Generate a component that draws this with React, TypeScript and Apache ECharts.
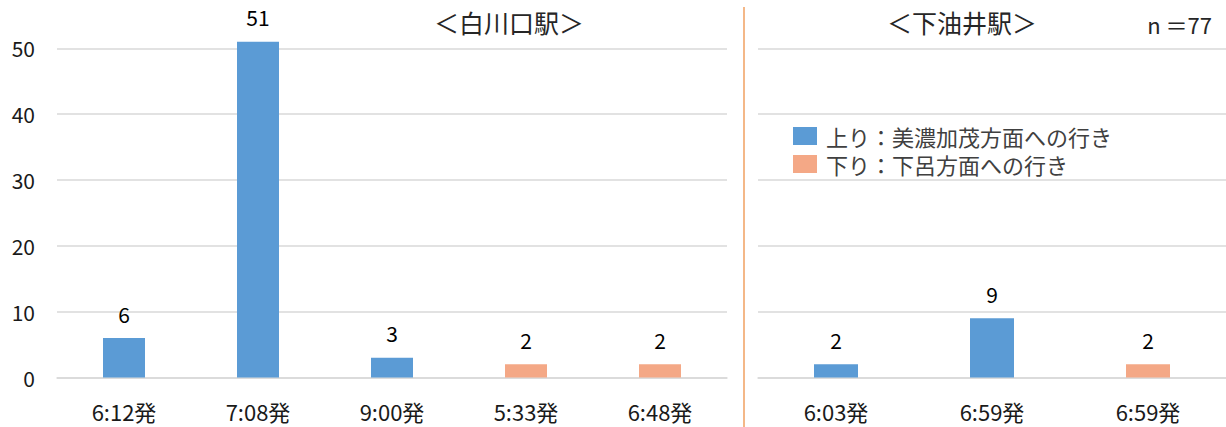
import React, { useEffect, useRef } from "react";
import * as echarts from "echarts";

const leftCategories = ["6:12発", "7:08発", "9:00発", "5:33発", "6:48発"];
const leftUp: (number | string)[] = [6, 51, 3, "-", "-"];
const leftDown: (number | string)[] = ["-", "-", "-", 2, 2];

const rightCategories = ["6:03発", "6:59発", "6:59発"];
const rightUp: (number | string)[] = [2, 9, "-"];
const rightDown: (number | string)[] = ["-", "-", 2];

const upName = "上り：美濃加茂方面への行き";
const downName = "下り：下呂方面への行き";
const leftTitle = "＜白川口駅＞";
const rightTitle = "＜下油井駅＞";
const nText = "n ＝77";

const FONT = "'Noto Sans CJK JP', 'Noto Sans', sans-serif";
const BLUE = "#5B9BD5";
const ORANGE = "#F4A886";

export default function App() {
  const ref = useRef<HTMLDivElement>(null);
  useEffect(() => {
    if (!ref.current) return;
    const chart = echarts.init(ref.current, undefined, { renderer: "svg" });
    const yAxisBase = {
      type: "value" as const,
      min: 0,
      max: 50,
      interval: 10,
      axisLine: { show: false },
      axisTick: { show: false },
      splitLine: { lineStyle: { color: "#D9D9D9", width: 1.5 } },
    };
    const xAxisBase = {
      type: "category" as const,
      axisTick: { show: false },
      axisLine: { lineStyle: { color: "#D9D9D9", width: 1.5 } },
      axisLabel: { fontFamily: FONT, fontSize: 22, color: "#1a1a1a", margin: 22 },
    };
    const labelCfg = {
      show: true,
      position: "top" as const,
      distance: 14,
      fontFamily: FONT,
      fontSize: 21,
      color: "#000",
    };
    chart.setOption({
      animation: false,
      grid: [
        { left: 57, width: 670, top: 48.3, height: 329.2 },
        { left: 758, right: 0, top: 48.3, height: 329.2 },
      ],
      xAxis: [
        { ...xAxisBase, gridIndex: 0, data: leftCategories },
        { ...xAxisBase, gridIndex: 1, data: rightCategories },
      ],
      yAxis: [
        {
          ...yAxisBase,
          gridIndex: 0,
          axisLabel: { fontFamily: FONT, fontSize: 21, color: "#1a1a1a", margin: 22 },
        },
        { ...yAxisBase, gridIndex: 1, axisLabel: { show: false } },
      ],
      legend: {
        left: 788,
        top: 120,
        orient: "vertical",
        itemWidth: 24,
        itemHeight: 18,
        itemGap: 6,
        icon: "rect",
        textStyle: {
          fontFamily: FONT,
          fontSize: 22,
          lineHeight: 22,
          color: "#404040",
          padding: [0, 0, 0, 4],
        },
        data: [upName, downName],
      },
      series: [
        {
          name: upName,
          type: "bar",
          xAxisIndex: 0,
          yAxisIndex: 0,
          stack: "L",
          barWidth: 42,
          clip: false,
          data: leftUp,
          itemStyle: { color: BLUE },
          label: labelCfg,
        },
        {
          name: downName,
          type: "bar",
          xAxisIndex: 0,
          yAxisIndex: 0,
          stack: "L",
          barWidth: 42,
          clip: false,
          data: leftDown,
          itemStyle: { color: ORANGE },
          label: labelCfg,
        },
        {
          name: upName,
          type: "bar",
          xAxisIndex: 1,
          yAxisIndex: 1,
          stack: "R",
          barWidth: 44,
          clip: false,
          data: rightUp,
          itemStyle: { color: BLUE },
          label: labelCfg,
        },
        {
          name: downName,
          type: "bar",
          xAxisIndex: 1,
          yAxisIndex: 1,
          stack: "R",
          barWidth: 44,
          clip: false,
          data: rightDown,
          itemStyle: { color: ORANGE },
          label: labelCfg,
        },
      ],
      graphic: [
        {
          type: "text",
          x: 509,
          y: 22,
          style: {
            text: leftTitle,
            fontFamily: FONT,
            fontSize: 25,
            fill: "#262626",
            align: "center",
            verticalAlign: "middle",
          },
        },
        {
          type: "text",
          x: 962,
          y: 22,
          style: {
            text: rightTitle,
            fontFamily: FONT,
            fontSize: 25,
            fill: "#262626",
            align: "center",
            verticalAlign: "middle",
          },
        },
        {
          type: "text",
          x: 1212,
          y: 24,
          style: {
            text: nText,
            fontFamily: FONT,
            fontSize: 22,
            fill: "#262626",
            align: "right",
            verticalAlign: "middle",
          },
        },
        {
          type: "line",
          shape: { x1: 744, y1: 7, x2: 744, y2: 427 },
          style: { stroke: "#F0A060", lineWidth: 1.5 },
        },
      ],
    });
    return () => chart.dispose();
  }, []);
  return (
    <div
      ref={ref}
      style={{ position: "fixed", left: 0, top: 0, width: 1226, height: 427, background: "#fff" }}
    />
  );
}
